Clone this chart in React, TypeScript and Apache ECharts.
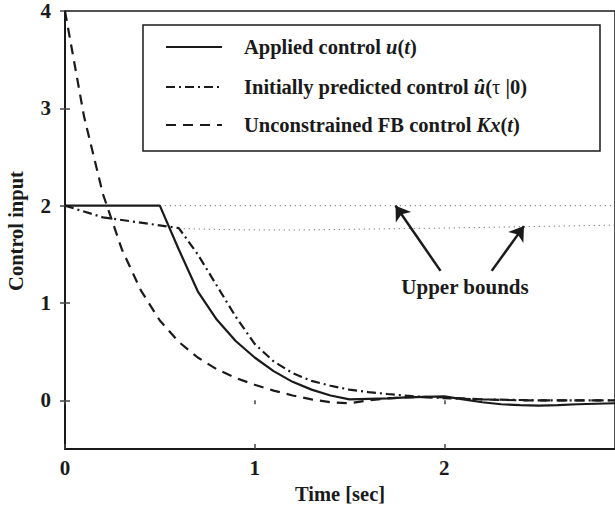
import React, { useEffect, useRef } from "react";
import * as echarts from "echarts";

// Time samples and values
const tApplied = [0, 0.5, 0.6, 0.7, 0.8, 0.9, 1.0, 1.1, 1.2, 1.3, 1.4, 1.5, 1.6, 1.7, 1.8, 1.9, 2.0, 2.1, 2.2, 2.3, 2.4, 2.5, 2.6, 2.7, 2.8, 2.9];
const uApplied = [2, 2, 1.55, 1.12, 0.83, 0.61, 0.44, 0.3, 0.19, 0.11, 0.05, 0.01, 0.015, 0.02, 0.03, 0.035, 0.04, 0.01, -0.02, -0.04, -0.05, -0.055, -0.05, -0.04, -0.035, -0.03];

const tPredicted = [0, 0.2, 0.6, 0.7, 0.8, 0.9, 1.0, 1.1, 1.2, 1.3, 1.4, 1.5, 1.6, 1.7, 1.8, 1.9, 2.0, 2.2, 2.5, 2.9];
const uPredicted = [2, 1.88, 1.77, 1.5, 1.18, 0.86, 0.58, 0.4, 0.28, 0.2, 0.15, 0.11, 0.085, 0.065, 0.048, 0.033, 0.022, 0.01, 0.0, 0.0];

const tFeedback = [0, 0.1, 0.2, 0.3, 0.4, 0.5, 0.6, 0.7, 0.8, 0.9, 1.0, 1.1, 1.2, 1.3, 1.4, 1.5, 1.6, 1.7, 1.8, 1.9, 2.0, 2.1, 2.2, 2.4, 2.9];
const uFeedback = [4.0, 2.92, 2.12, 1.55, 1.13, 0.82, 0.6, 0.44, 0.32, 0.23, 0.16, 0.1, 0.05, 0.01, -0.02, -0.03, 0.0, 0.02, 0.03, 0.035, 0.03, 0.02, 0.01, 0.0, 0.0];

const tBound1 = [0.5, 2.9];
const uBound1 = [2, 2];
const tBound2 = [0.6, 0.9, 1.23, 2.0, 2.9];
const uBound2 = [1.765, 1.752, 1.75, 1.77, 1.8];

// arrows: start and end points in data coordinates
const arrowStarts = [[1.98, 1.33], [2.25, 1.33]];
const arrowEnds = [[1.743, 2.0], [2.42, 1.79]];

const xTicks = [0, 1, 2];
const yTicks = [0, 1, 2, 3, 4];

// legend rows: [text, style] segments; style: b = bold, i = bold italic, n = normal
const legendRow1: [string, string][] = [["Applied control ", "b"], ["u", "i"], ["(", "b"], ["t", "i"], [")", "b"]];
const legendRow2: [string, string][] = [["Initially predicted control ", "b"], ["û", "i"], ["(", "b"], ["τ", "n"], [" |0)", "b"]];
const legendRow3: [string, string][] = [["Unconstrained FB control ", "b"], ["Kx", "i"], ["(", "b"], ["t", "i"], [")", "b"]];
const annotation = "Upper bounds";
const xTitle = "Time [sec]";
const yTitle = "Control input";

const FONT = "'Liberation Serif', 'Times New Roman', serif";
const INK = "#1a1a1a";

const zip = (a: number[], b: number[]) => a.map((v, i) => [v, b[i]]);

export default function App() {
  const ref = useRef<HTMLDivElement>(null);
  useEffect(() => {
    const chart = echarts.init(ref.current!, null, { renderer: "svg" });
    const labelStyle = { fontFamily: FONT, fontWeight: "bold" as const, fontSize: 21, color: INK };
    const LF = 20.5;
    const ctx = document.createElement("canvas").getContext("2d")!;
    const segFont = (k: string) => ({
      fontFamily: FONT,
      fontWeight: k === "n" ? "normal" : "bold",
      fontStyle: k === "i" ? "italic" : "normal",
      fontSize: LF,
    });
    const measure = (s: string, k: string) => {
      const f = segFont(k);
      ctx.font = `${f.fontStyle} ${f.fontWeight} ${LF}px ${FONT}`;
      return ctx.measureText(s).width;
    };

    const legendY = [47, 87, 125];
    const rows = [legendRow1, legendRow2, legendRow3];
    const dashes: any[] = [null, [9, 4, 2, 4], [10, 7]];
    const graphics: any[] = [
      {
        type: "rect",
        shape: { x: 143, y: 25, width: 457, height: 126 },
        style: { fill: "#fff", stroke: INK, lineWidth: 1.5 },
        z: 100,
      },
    ];
    legendY.forEach((y, i) => {
      graphics.push({
        type: "line",
        shape: { x1: 166, y1: y, x2: 222, y2: y },
        style: { stroke: INK, lineWidth: 2, lineDash: dashes[i] || undefined },
        z: 101,
      });
      let x = 244;
      rows[i].forEach(([s, k]) => {
        graphics.push({
          type: "text",
          x,
          y,
          style: { text: s, ...segFont(k), fill: INK, verticalAlign: "middle", align: "left" },
          z: 101,
        });
        x += measure(s, k);
      });
    });
    const titleStyle = { fontFamily: FONT, fontWeight: "bold", fontSize: 20.5, fill: INK, align: "center", verticalAlign: "middle" };
    graphics.push({ type: "text", x: 465, y: 287, style: { text: annotation, ...titleStyle, fontSize: 21 } });
    graphics.push({ type: "text", x: 340, y: 494, style: { text: xTitle, ...titleStyle } });
    graphics.push({ type: "text", x: 16, y: 231, rotation: Math.PI / 2, style: { text: yTitle, ...titleStyle } });

    const option: any = {
      animation: false,
      backgroundColor: "#fff",
      grid: { left: 65, top: 11, width: 553, height: 438, show: true, borderColor: INK, borderWidth: 1.5, backgroundColor: "transparent" },
      xAxis: [
        {
          type: "value", min: 0, max: 2.9, position: "bottom",
          axisLine: { show: true, onZero: false, lineStyle: { color: INK, width: 2 } },
          axisTick: { show: true, inside: true, length: 5, customValues: xTicks, lineStyle: { color: "#444", width: 1.5 } },
          axisLabel: { ...labelStyle, margin: 8, customValues: xTicks },
          splitLine: { show: false },
        },
        {
          type: "value", min: 0, max: 2.9, position: "top",
          axisLine: { show: false },
          axisTick: { show: true, inside: true, length: 4, customValues: xTicks, lineStyle: { color: "#444", width: 1.5 } },
          axisLabel: { show: false },
          splitLine: { show: false },
        },
      ],
      yAxis: [
        {
          type: "value", min: -0.5, max: 4, position: "left",
          axisLine: { show: true, onZero: false, lineStyle: { color: INK, width: 2 } },
          axisTick: { show: true, inside: true, length: 5, customValues: yTicks, lineStyle: { color: "#444", width: 1.5 } },
          axisLabel: { ...labelStyle, margin: 14, customValues: yTicks },
          splitLine: { show: false },
        },
        {
          type: "value", min: -0.5, max: 4, position: "right",
          axisLine: { show: false },
          axisTick: { show: true, inside: true, length: 5, customValues: yTicks, lineStyle: { color: "#444", width: 1.5 } },
          axisLabel: { show: false },
          splitLine: { show: false },
        },
      ],
      series: [
        {
          type: "line", data: zip(tBound1, uBound1), symbol: "none", z: 1,
          lineStyle: { color: "#555", width: 1, type: [1, 4] },
        },
        {
          type: "line", data: zip(tBound2, uBound2), symbol: "none", z: 1,
          lineStyle: { color: "#555", width: 1, type: [1, 4] },
          markLine: {
            silent: true,
            symbol: ["none", "arrow"],
            symbolSize: [0, 14],
            label: { show: false },
            lineStyle: { color: INK, width: 2.5, type: "solid" },
            data: arrowStarts.map((s, i) => [
              { coord: s, symbol: "none" },
              { coord: arrowEnds[i], symbol: "arrow", symbolSize: 14 },
            ]),
          },
        },
        {
          type: "line", data: zip(tFeedback, uFeedback), symbol: "none", z: 2,
          lineStyle: { color: INK, width: 2.2, type: [10, 7] },
        },
        {
          type: "line", data: zip(tPredicted, uPredicted), symbol: "none", z: 3,
          lineStyle: { color: INK, width: 2.2, type: [9, 4, 2, 4] },
        },
        {
          type: "line", data: zip(tApplied, uApplied), symbol: "none", z: 4,
          lineStyle: { color: INK, width: 2.2, type: "solid" },
        },
      ],
      graphic: graphics,
    };
    chart.setOption(option);
    return () => chart.dispose();
  }, []);
  return <div ref={ref} style={{ position: "fixed", left: 0, top: 0, width: 615, height: 509, background: "#fff" }} />;
}
